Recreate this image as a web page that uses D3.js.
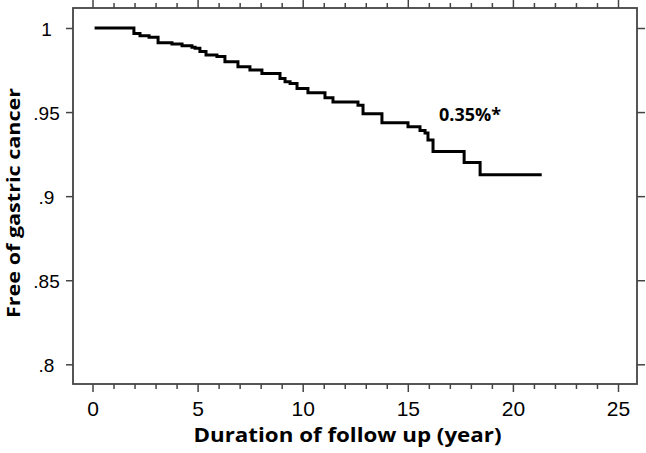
<!DOCTYPE html>
<html>
<head>
<meta charset="utf-8">
<script src="https://cdn.jsdelivr.net/npm/d3@7"></script>
<style>
  body { margin: 0; background: #fff; }
  .tick line { stroke: #444; stroke-width: 1.5; }
  .domain { display: none; }
  .tick text { font-family: "Liberation Sans", Arial, sans-serif; fill: #000; }
  .title { font-family: "Open Sans", "Noto Sans", sans-serif; font-weight: 700; fill: #000; }
</style>
</head>
<body>
<script>
// Kaplan-Meier step data
var times = [0.1, 1.97, 2.26, 2.69, 3.12, 3.78, 4.26, 4.73, 4.88, 5.11, 5.40, 5.92, 6.30, 6.92, 7.49, 8.06,
             8.92, 9.16, 9.40, 9.73, 10.25, 11.06, 11.44, 12.63, 12.87, 13.77, 15.01, 15.58, 15.82, 15.96,
             16.2, 17.68, 18.44, 21.37];
var survival = [1.0, 0.9968, 0.9954, 0.9945, 0.9913, 0.9905, 0.9895, 0.9885, 0.988, 0.986, 0.984, 0.983, 0.980,
                0.977, 0.975, 0.973, 0.970, 0.968, 0.967, 0.964, 0.9615, 0.9585, 0.956, 0.954, 0.949, 0.9437,
                0.9413, 0.939, 0.9376, 0.9334, 0.9265, 0.920, 0.9128, 0.9128];
var xMajor = [0, 5, 10, 15, 20, 25];
var xMinor = [1, 2, 3, 4, 6, 7, 8, 9, 11, 12, 13, 14, 16, 17, 18, 19, 21, 22, 23, 24];
var yTicks = [0.8, 0.85, 0.9, 0.95, 1];
var yLabels = [".8", ".85", ".9", ".95", "1"];
var note = "0.35%*";

// plot box
var box = { left: 73, right: 637, top: 8, bottom: 384 };

var svg = d3.select("body").append("svg")
    .attr("width", 646)
    .attr("height", 453);

// set the ranges
var x = d3.scaleLinear().domain([0, 25]).range([92.5, 618]);
var y = d3.scaleLinear().domain([0.8, 1]).range([364.3, 28]);

// frame
svg.append("rect")
    .attr("x", box.left)
    .attr("y", box.top)
    .attr("width", box.right - box.left)
    .attr("height", box.bottom - box.top)
    .attr("fill", "none")
    .attr("stroke", "#444")
    .attr("stroke-width", 1.8);

// bottom axis, major and minor
svg.append("g")
    .attr("transform", "translate(0," + box.bottom + ")")
    .call(d3.axisBottom(x).tickValues(xMajor).tickSize(8).tickPadding(9).tickFormat(d3.format("d")))
    .selectAll("text").style("font-size", "21px");
svg.append("g")
    .attr("transform", "translate(0," + box.bottom + ")")
    .call(d3.axisBottom(x).tickValues(xMinor).tickSize(5).tickFormat(""));

// top axis, mirrored
svg.append("g")
    .attr("transform", "translate(0," + box.top + ")")
    .call(d3.axisTop(x).tickValues(xMajor).tickSize(8).tickFormat(""));
svg.append("g")
    .attr("transform", "translate(0," + box.top + ")")
    .call(d3.axisTop(x).tickValues(xMinor).tickSize(5).tickFormat(""));

// left axis with centred labels
var yAxis = svg.append("g")
    .attr("transform", "translate(" + box.left + ",0)")
    .call(d3.axisLeft(y).tickValues(yTicks).tickSize(7)
        .tickFormat(function (d, i) { return yLabels[i]; }));
yAxis.selectAll("text")
    .attr("x", 46.5 - box.left)
    .attr("dy", "0.4em")
    .attr("text-anchor", "middle")
    .style("font-size", "19px");

// right axis, mirrored
svg.append("g")
    .attr("transform", "translate(" + box.right + ",0)")
    .call(d3.axisRight(y).tickValues(yTicks).tickSize(8).tickFormat(""));

// the survival curve
var line = d3.line()
    .x(function (d) { return x(d[0]); })
    .y(function (d) { return y(d[1]); })
    .curve(d3.curveStepAfter);

svg.append("path")
    .attr("d", line(d3.zip(times, survival)))
    .attr("fill", "none")
    .attr("stroke", "#000")
    .attr("stroke-width", 3);

// annotation
svg.append("text")
    .attr("class", "title")
    .attr("x", 439)
    .attr("y", 120.5)
    .attr("textLength", 62)
    .attr("lengthAdjust", "spacingAndGlyphs")
    .style("font-size", "17px")
    .text(note);

// axis titles
svg.append("text")
    .attr("class", "title")
    .attr("x", 347.5)
    .attr("y", 442)
    .attr("text-anchor", "middle")
    .attr("textLength", 308)
    .attr("lengthAdjust", "spacingAndGlyphs")
    .style("font-size", "20px")
    .text("Duration of follow up (year)");

svg.append("text")
    .attr("class", "title")
    .attr("transform", "translate(19.5,203) rotate(-90)")
    .attr("text-anchor", "middle")
    .attr("textLength", 230)
    .attr("lengthAdjust", "spacingAndGlyphs")
    .style("font-size", "18.5px")
    .text("Free of gastric cancer");
</script>
</body>
</html>
